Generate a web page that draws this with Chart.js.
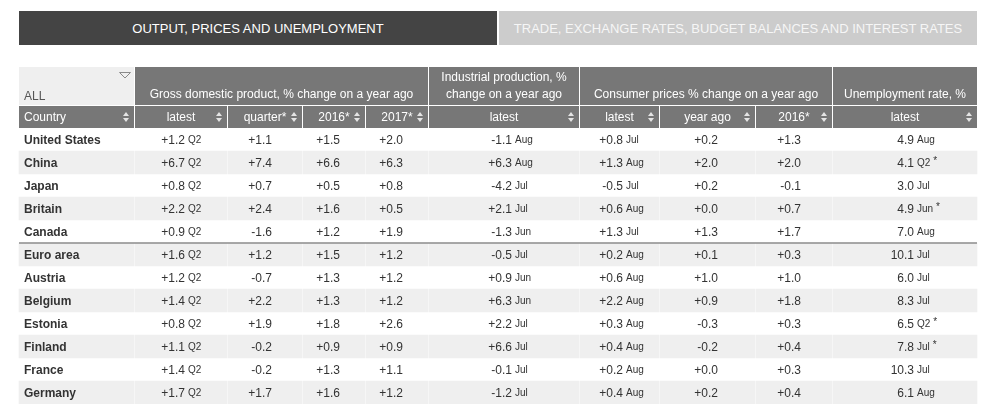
<!DOCTYPE html>
<html><head><meta charset="utf-8">
<script src="https://cdn.jsdelivr.net/npm/chart.js@4/dist/chart.umd.min.js"></script>
<style>
html,body{margin:0;padding:0;background:#fff;width:984px;height:407px;overflow:hidden;font-family:"Liberation Sans",Arial,Helvetica,sans-serif}
.tab{position:absolute;top:11px;height:34px;line-height:35px;text-align:center;font-size:13px;}
#t1{left:19px;width:478px;background:#444;color:#fff}
#t2{left:499px;width:478px;background:#ccc;color:#f6f6f6}
#wrap{position:absolute;left:0;top:0;width:984px;height:407px}
</style></head><body>
<div id="wrap"><canvas id="c" width="984" height="407"></canvas></div>
<div class="tab" id="t1"></div>
<div class="tab" id="t2"></div>
<script>
// ---------- DATA ----------
const tabLabels = ['OUTPUT, PRICES AND UNEMPLOYMENT', 'TRADE, EXCHANGE RATES, BUDGET BALANCES AND INTEREST RATES'];
const groupHeaders = ['ALL', 'Gross domestic product, % change on a year ago', ['Industrial production, %', 'change on a year ago'], 'Consumer prices % change on a year ago', 'Unemployment rate, %'];
const columnHeaders = ['Country', 'latest', 'quarter*', '2016*', '2017*', 'latest', 'latest', 'year ago', '2016*', 'latest'];
const countries = ['United States', 'China', 'Japan', 'Britain', 'Canada', 'Euro area', 'Austria', 'Belgium', 'Estonia', 'Finland', 'France', 'Germany'];

const gdpLatest       = [1.2, 6.7, 0.8, 2.2, 0.9, 1.6, 1.2, 1.4, 0.8, 1.1, 1.4, 1.7];
const gdpLatestPeriod = ['Q2','Q2','Q2','Q2','Q2','Q2','Q2','Q2','Q2','Q2','Q2','Q2'];
const gdpQuarter      = [1.1, 7.4, 0.7, 2.4, -1.6, 1.2, -0.7, 2.2, 1.9, -0.2, -0.2, 1.7];
const gdp2016         = [1.5, 6.6, 0.5, 1.6, 1.2, 1.5, 1.3, 1.3, 1.8, 0.9, 1.3, 1.6];
const gdp2017         = [2.0, 6.3, 0.8, 0.5, 1.9, 1.2, 1.2, 1.2, 2.6, 0.9, 1.1, 1.2];
const indLatest       = [-1.1, 6.3, -4.2, 2.1, -1.3, -0.5, 0.9, 6.3, 2.2, 6.6, -0.1, -1.2];
const indPeriod       = ['Aug','Aug','Jul','Jul','Jun','Jul','Jun','Jun','Jul','Jul','Jul','Jul'];
const cpiLatest       = [0.8, 1.3, -0.5, 0.6, 1.3, 0.2, 0.6, 2.2, 0.3, 0.4, 0.2, 0.4];
const cpiPeriod       = ['Jul','Aug','Jul','Aug','Jul','Aug','Aug','Aug','Aug','Aug','Aug','Aug'];
const cpiYearAgo      = [0.2, 2.0, 0.2, 0.0, 1.3, 0.1, 1.0, 0.9, -0.3, -0.2, 0.0, 0.2];
const cpi2016         = [1.3, 2.0, -0.1, 0.7, 1.7, 0.3, 1.0, 1.8, 0.3, 0.4, 0.3, 0.4];
const unempLatest     = [4.9, 4.1, 3.0, 4.9, 7.0, 10.1, 6.0, 8.3, 6.5, 7.8, 10.3, 6.1];
const unempPeriod     = ['Aug','Q2','Jul','Jun','Aug','Jul','Jul','Jul','Q2','Jul','Jul','Aug'];
const unempNote       = ['', '*', '', '*', '', '', '', '', '*', '*', '', ''];

// ---------- LAYOUT (not data) ----------
const colEdges   = [19, 134, 227, 302, 365, 428, 579, 659, 755, 832, 977];
const valueRight = [null, 185, 272, 340, 403, 512, 623, 718, 801, 914];
const groupSpans = [[0,1],[1,5],[5,6],[6,9],[9,10]];
const FONT = '"Liberation Sans", Arial, Helvetica, sans-serif';

document.getElementById('t1').textContent = tabLabels[0];
document.getElementById('t2').textContent = tabLabels[1];

const signed = v => (v < 0 ? '-' : '+') + Math.abs(v).toFixed(1);
const plain = v => v.toFixed(1);

const columns = [
  null,
  {vals: gdpLatest, fmt: signed, sfx: gdpLatestPeriod},
  {vals: gdpQuarter, fmt: signed},
  {vals: gdp2016, fmt: signed},
  {vals: gdp2017, fmt: signed},
  {vals: indLatest, fmt: signed, sfx: indPeriod},
  {vals: cpiLatest, fmt: signed, sfx: cpiPeriod},
  {vals: cpiYearAgo, fmt: signed},
  {vals: cpi2016, fmt: signed},
  {vals: unempLatest, fmt: plain, sfx: unempPeriod, note: unempNote}
];

// shaded cell backgrounds for alternate rows: one floating-bar dataset per column
const datasets = [];
for (let c = 0; c < colEdges.length - 1; c++) {
  datasets.push({
    data: countries.map((_, i) => i % 2 === 1 ? [colEdges[c] + (c ? 1 : 0), colEdges[c + 1]] : null),
    backgroundColor: '#efefef',
    borderWidth: 0,
    barPercentage: 1,
    categoryPercentage: 1,
    grouped: false
  });
}

function sortArrows(ctx, x, y) {
  ctx.fillStyle = '#e4e4e4';
  ctx.beginPath(); ctx.moveTo(x - 3, y - 1); ctx.lineTo(x + 3, y - 1); ctx.lineTo(x, y - 5); ctx.closePath(); ctx.fill();
  ctx.beginPath(); ctx.moveTo(x - 3, y + 1); ctx.lineTo(x + 3, y + 1); ctx.lineTo(x, y + 5); ctx.closePath(); ctx.fill();
}

const tablePlugin = {
  id: 'tablePlugin',
  afterDatasetsDraw(chart) {
    const ctx = chart.ctx, xs = chart.scales.x, ys = chart.scales.y;
    const X = v => xs.getPixelForValue(v);
    ctx.save();
    // header row 1
    const r1t = 67, r1b = 105, r2t = 106, r2b = 128;
    groupSpans.forEach(([a, b], g) => {
      const x0 = X(colEdges[a]) + (a ? 1 : 0), x1 = X(colEdges[b]);
      ctx.fillStyle = g === 0 ? '#efefef' : '#777777';
      ctx.fillRect(x0, r1t, x1 - x0, r1b - r1t);
      const lbl = groupHeaders[g];
      ctx.font = '12px ' + FONT;
      ctx.textBaseline = 'middle';
      if (g === 0) {
        ctx.fillStyle = '#555'; ctx.textAlign = 'left';
        ctx.fillText(lbl, x0 + 5, 97);
        // filter triangle
        ctx.strokeStyle = '#8a8a8a'; ctx.lineWidth = 1;
        ctx.beginPath(); ctx.moveTo(119.5, 72.5); ctx.lineTo(130.5, 72.5); ctx.lineTo(125, 78); ctx.closePath(); ctx.stroke();
      } else {
        ctx.fillStyle = '#fff'; ctx.textAlign = 'center';
        const cx = (x0 + x1) / 2;
        if (Array.isArray(lbl)) { ctx.fillText(lbl[0], cx, 78); ctx.fillText(lbl[1], cx, 95); }
        else ctx.fillText(lbl, cx, 95);
      }
    });
    // header row 2
    for (let c = 0; c < colEdges.length - 1; c++) {
      const x0 = X(colEdges[c]) + (c ? 1 : 0), x1 = X(colEdges[c + 1]);
      ctx.fillStyle = '#777777';
      ctx.fillRect(x0, r2t, x1 - x0, r2b - r2t);
      ctx.fillStyle = '#fff';
      ctx.font = '12px ' + FONT;
      if (c === 0) { ctx.textAlign = 'left'; ctx.fillText(columnHeaders[c], x0 + 5, 118); }
      else { ctx.textAlign = 'center'; ctx.fillText(columnHeaders[c], (x0 + x1) / 2, 118); }
      sortArrows(ctx, x1 - 8, 117);
    }
    // body text
    countries.forEach((name, i) => {
      const y = ys.getPixelForValue(i) + 1;
      ctx.fillStyle = '#333';
      ctx.textAlign = 'left';
      ctx.font = 'bold 12px ' + FONT;
      ctx.fillText(name, X(colEdges[0]) + 5, y);
      for (let c = 1; c < columns.length; c++) {
        const col = columns[c];
        const xr = X(valueRight[c]);
        ctx.font = '12px ' + FONT;
        ctx.textAlign = 'right';
        ctx.fillStyle = '#333';
        ctx.fillText(col.fmt(col.vals[i]), xr, y);
        if (col.sfx) {
          ctx.textAlign = 'left';
          ctx.font = '10px ' + FONT;
          ctx.fillText(col.sfx[i], xr + 3, y);
          if (col.note && col.note[i]) {
            const w = ctx.measureText(col.sfx[i]).width;
            ctx.fillText(col.note[i], xr + 3 + w + 3, y - 2);
          }
        }
      }
    });
    // separator above Euro area
    const ySep = Math.round((ys.getPixelForValue(4) + ys.getPixelForValue(5)) / 2);
    ctx.strokeStyle = '#8c8c8c'; ctx.lineWidth = 1.5;
    ctx.beginPath(); ctx.moveTo(X(colEdges[0]), ySep); ctx.lineTo(X(colEdges[colEdges.length - 1]), ySep); ctx.stroke();
    ctx.restore();
  }
};

new Chart(document.getElementById('c'), {
  type: 'bar',
  data: { labels: countries, datasets },
  options: {
    indexAxis: 'y',
    responsive: false,
    animation: false,
    devicePixelRatio: 1,
    layout: { padding: { left: 0, right: 0, top: 128, bottom: 3 } },
    scales: {
      x: { type: 'linear', min: 0, max: 984, display: false },
      y: { type: 'category', display: false, offset: true }
    },
    plugins: { legend: { display: false }, tooltip: { enabled: false } }
  },
  plugins: [tablePlugin]
});
</script>
</body></html>
